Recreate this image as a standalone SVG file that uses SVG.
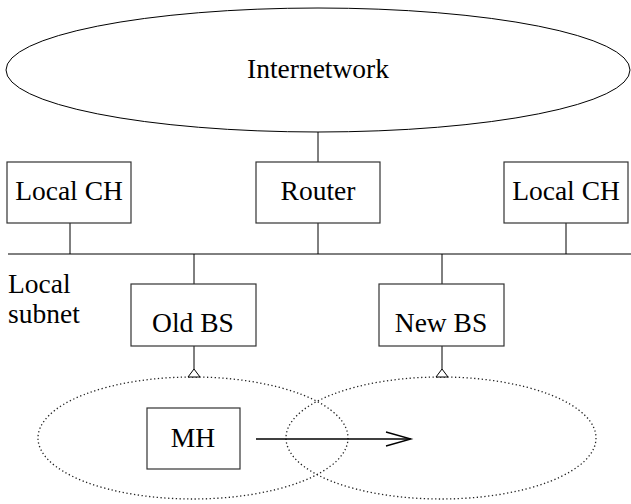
<svg xmlns="http://www.w3.org/2000/svg" width="631" height="504" viewBox="0 0 631 504">
<style>
.s{fill:none;stroke:#000;stroke-width:1}
.b{fill:#fff;stroke:#333;stroke-width:1.2}
.d{fill:none;stroke:#222;stroke-width:1.3;stroke-dasharray:1.3,2.5}
.t{font-family:"Liberation Serif","Times New Roman",serif;font-size:27.5px;fill:#000}
.m{text-anchor:middle}
.ant{fill:#fff;stroke:#000;stroke-width:1}
</style>
<rect width="631" height="504" fill="#fff"/>
<g id="coverage">
<ellipse class="d" cx="193" cy="438" rx="155" ry="61"/>
<ellipse class="d" cx="441" cy="438" rx="155" ry="61"/>
</g>
<g id="connectors">
<line class="s" x1="318" y1="132" x2="318" y2="162"/>
<line class="s" x1="8" y1="254" x2="631" y2="254"/>
<line class="s" x1="70" y1="223" x2="70" y2="254"/>
<line class="s" x1="318" y1="223" x2="318" y2="254"/>
<line class="s" x1="566" y1="223" x2="566" y2="254"/>
<line class="s" x1="194" y1="254" x2="194" y2="284"/>
<line class="s" x1="442" y1="254" x2="442" y2="284"/>
<line class="s" x1="194" y1="346" x2="194" y2="369"/>
<line class="s" x1="442" y1="346" x2="442" y2="369"/>
<polygon class="ant" points="194,369 188,377 200,377"/>
<polygon class="ant" points="442,369 436,377 448,377"/>
<line x1="256" y1="439" x2="410" y2="439" stroke="#000" stroke-width="1.6"/>
<polyline points="386,432 411,439 386,446" fill="none" stroke="#000" stroke-width="1.3"/>
</g>
<g id="internetwork">
<ellipse cx="318" cy="70" rx="312" ry="62" fill="#fff" stroke="#000" stroke-width="1"/>
<text class="t m" x="318" y="78">Internetwork</text>
</g>
<g id="localch1">
<rect class="b" x="7" y="162" width="124" height="61"/>
<text class="t m" x="69" y="200">Local CH</text>
</g>
<g id="router">
<rect class="b" x="256" y="162" width="124" height="61"/>
<text class="t m" x="318" y="200">Router</text>
</g>
<g id="localch2">
<rect class="b" x="504" y="162" width="124" height="61"/>
<text class="t m" x="566" y="200">Local CH</text>
</g>
<g id="subnet-label">
<text class="t" x="8" y="293">Local</text>
<text class="t" x="8" y="323">subnet</text>
</g>
<g id="oldbs">
<rect class="b" x="131" y="284" width="125" height="62"/>
<text class="t m" x="193" y="332">Old BS</text>
</g>
<g id="newbs">
<rect class="b" x="379" y="284" width="125" height="62"/>
<text class="t m" x="441" y="332">New BS</text>
</g>
<g id="mh">
<rect class="b" x="147" y="408" width="93" height="61"/>
<text class="t m" x="193" y="447">MH</text>
</g>
</svg>
